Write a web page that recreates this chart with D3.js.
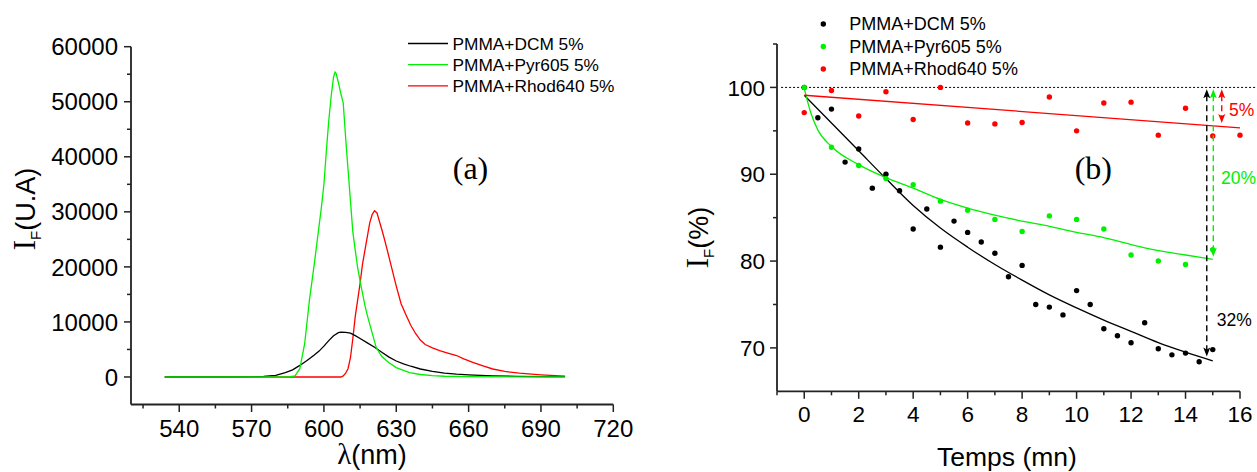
<!DOCTYPE html>
<html>
<head>
<meta charset="utf-8">
<script src="https://cdn.jsdelivr.net/npm/d3@7"></script>
<style>
  html, body { margin: 0; padding: 0; background: #fff; }
  svg { display: block; }
  text { font-family: "Liberation Sans", Arial, sans-serif; fill: #000; }
</style>
</head>
<body>
<svg id="chart" width="1257" height="472"></svg>
<script>
// ---------------- Panel (a): emission spectra ----------------
const seriesNamesA = ["PMMA+DCM 5%", "PMMA+Pyr605 5%", "PMMA+Rhod640 5%"];
const colorsA = ["#000000", "#00f000", "#ff0000"];

const dcmNm = [534, 560, 570, 575, 580, 584, 587, 590, 593, 596, 598, 600, 602, 604, 606, 607, 609, 611, 613, 615, 618, 621, 624, 627, 630, 633, 636, 640, 645, 650, 655, 660, 670, 680, 690, 700];
const dcmI  = [0, 0, 30, 100, 300, 800, 1300, 2100, 3000, 4000, 4700, 5600, 6600, 7500, 8050, 8150, 8100, 7950, 7500, 7000, 6200, 5400, 4500, 3600, 2900, 2400, 1950, 1450, 1000, 700, 500, 370, 200, 120, 80, 50];

const pyrNm = [534, 560, 580, 586, 588, 590, 592, 594, 596, 597, 598, 599, 600, 601, 602, 603, 604, 604.6, 605, 606, 607, 608, 609, 610, 611, 612, 613, 614, 615.4, 617, 618, 619.6, 621.7, 624, 627, 630, 635.5, 640, 645, 650, 660, 680, 700];
const pyrI  = [0, 0, 0, 50, 200, 1500, 6000, 14000, 20500, 24000, 27500, 31000, 35000, 41000, 46500, 51000, 54500, 55400, 55200, 53500, 51500, 49800, 43500, 37700, 32000, 26300, 23000, 19800, 16500, 13000, 11200, 8650, 5340, 3700, 2600, 1700, 800, 450, 250, 130, 60, 20, 0];

const rhodNm = [534, 600, 607, 608, 609, 610, 611, 612, 613, 614, 615, 616, 617, 618, 619, 620, 621, 622, 623, 624, 625, 626, 628, 630, 632, 634, 636, 638, 640, 642, 645, 648, 651, 655, 658, 662, 666, 670, 675, 681, 690, 700];
const rhodI  = [0, 0, 0, 200, 700, 1500, 3500, 7000, 11000, 14000, 17000, 20500, 23000, 25500, 28000, 29500, 30200, 29800, 28300, 26800, 25200, 23500, 20000, 16500, 13300, 11300, 9400, 7900, 6700, 5900, 5300, 4800, 4400, 3900, 3300, 2600, 2000, 1450, 1000, 700, 400, 150];

const xTicksA = [540, 570, 600, 630, 660, 690, 720];
const xMinorA = [525, 555, 585, 615, 645, 675, 705];
const yTicksA = [0, 10000, 20000, 30000, 40000, 50000, 60000];
const yMinorA = [5000, 15000, 25000, 35000, 45000, 55000];

// ---------------- Panel (b): photostability ----------------
const seriesNamesB = ["PMMA+DCM 5%", "PMMA+Pyr605 5%", "PMMA+Rhod640 5%"];
const colorsB = ["#000000", "#00f000", "#ff0000"];

const dcmT = [0, 0.5, 1, 1.5, 2, 2.5, 3, 3.5, 4, 4.5, 5, 5.5, 6, 6.5, 7, 7.5, 8, 8.5, 9, 9.5, 10, 10.5, 11, 11.5, 12, 12.5, 13, 13.5, 14, 14.5, 15];
const dcmP = [100, 96.5, 97.5, 91.4, 92.9, 88.4, 90.0, 88.1, 83.7, 86.0, 81.6, 84.6, 83.3, 82.2, 80.9, 78.2, 79.5, 75.0, 74.7, 73.8, 76.6, 75.0, 72.2, 71.4, 70.6, 72.9, 69.9, 69.2, 69.4, 68.4, 69.8];

const pyrT = [0, 1, 2, 3, 4, 5, 6, 7, 8, 9, 10, 11, 12, 13, 14, 15];
const pyrP = [100, 93.1, 91.0, 89.5, 88.8, 86.9, 85.85, 84.8, 83.4, 85.2, 84.8, 83.7, 80.7, 80.0, 79.6, 81.3];

const rhodT = [0, 1, 2, 3, 4, 5, 6, 7, 8, 9, 10, 11, 12, 13, 14, 15, 16];
const rhodP = [97.1, 99.65, 96.7, 99.5, 96.3, 100.0, 95.9, 95.8, 95.96, 98.9, 95.0, 98.2, 98.3, 94.5, 97.6, 94.4, 94.5];

// fitted curves as drawn in the figure
const dcmFitT = [0, 1, 2, 3, 4, 5, 6, 7, 8, 9, 10, 11, 12, 13, 14, 15];
const dcmFitP = [99.1, 95.9, 92.7, 89.5, 86.4, 83.8, 81.6, 79.6, 77.8, 76.1, 74.6, 73.2, 71.9, 70.6, 69.5, 68.5];
const pyrFitT = [0, 0.25, 0.5, 1, 2, 3, 4, 5, 6, 7, 8, 9, 10, 11, 12, 13, 14, 15];
const pyrFitP = [99.9, 97.0, 95.1, 93.2, 91.1, 89.6, 88.4, 87.1, 86.1, 85.3, 84.6, 84.0, 83.3, 82.7, 81.9, 81.2, 80.7, 80.2];
const rhodFitT = [0, 16];
const rhodFitP = [99.1, 95.35];

// loss arrows: x position (min), bottom value (%), label
const arrowT = [14.78, 15.02, 15.33];
const arrowBottom = [69.0, 80.5, 95.9];
const arrowTop = 99.8;
const lossLabels = ["32%", "20%", "5%"];
const lossLabelPos = [[15.15, 73.2], [15.3, 89.6], [15.6, 97.4]];

const xTicksB = [0, 2, 4, 6, 8, 10, 12, 14, 16];
const xMinorB = [-1, 1, 3, 5, 7, 9, 11, 13, 15];
const yTicksB = [70, 80, 90, 100];
const yMinorB = [75, 85, 95, 105];

// ================= drawing =================
const svg = d3.select("#chart");
const AXIS = "#222";

function drawAxes(g, x, y, xt, xm, yt, ym, fs, tickFmt, xLabelBase, yLabelGap) {
  const [x0, x1] = x.range();
  const [y0, y1] = y.range();
  g.append("line").attr("x1", x0).attr("x2", x1).attr("y1", y0).attr("y2", y0)
    .attr("stroke", AXIS).attr("stroke-width", 1.8);
  g.append("line").attr("x1", x0).attr("x2", x0).attr("y1", y0).attr("y2", y1)
    .attr("stroke", AXIS).attr("stroke-width", 1.8);
  xt.forEach(v => g.append("line").attr("x1", x(v)).attr("x2", x(v)).attr("y1", y0).attr("y2", y0 + 7.5)
    .attr("stroke", AXIS).attr("stroke-width", 1.5));
  xm.forEach(v => g.append("line").attr("x1", x(v)).attr("x2", x(v)).attr("y1", y0).attr("y2", y0 + 4)
    .attr("stroke", AXIS).attr("stroke-width", 1.5));
  xt.forEach(v => g.append("text").attr("x", x(v)).attr("y", xLabelBase).attr("text-anchor", "middle")
    .style("font-size", fs + "px").text(v));
  yt.forEach(v => g.append("line").attr("x1", x0 - 7).attr("x2", x0).attr("y1", y(v)).attr("y2", y(v))
    .attr("stroke", AXIS).attr("stroke-width", 1.5));
  ym.forEach(v => g.append("line").attr("x1", x0 - 4).attr("x2", x0).attr("y1", y(v)).attr("y2", y(v))
    .attr("stroke", AXIS).attr("stroke-width", 1.5));
  yt.forEach(v => g.append("text").attr("x", x0 - yLabelGap).attr("y", y(v)).attr("dy", "0.36em")
    .attr("text-anchor", "end").style("font-size", fs + "px").text(tickFmt(v)));
}

// ---------- panel (a) ----------
const gA = svg.append("g");
const xA = d3.scaleLinear().domain([520, 720]).range([131, 613.3]);
const yA = d3.scaleLinear().domain([-5000, 60000]).range([404.5, 46.7]);
drawAxes(gA, xA, yA, xTicksA, xMinorA, yTicksA, yMinorA, 24, d => d, 437, 13);

const lineA = d3.line().x(d => xA(d[0])).y(d => yA(d[1]));
const seriesA = [
  d3.zip(dcmNm, dcmI),
  d3.zip(pyrNm, pyrI),
  d3.zip(rhodNm, rhodI)
];
[2, 0, 1].forEach(i => {
  gA.append("path").datum(seriesA[i]).attr("d", lineA)
    .attr("fill", "none").attr("stroke", colorsA[i]).attr("stroke-width", 1.3);
});

seriesNamesA.forEach((name, i) => {
  const yy = 43.5 + i * 21.2;
  gA.append("line").attr("x1", 408).attr("x2", 448).attr("y1", yy).attr("y2", yy)
    .attr("stroke", colorsA[i]).attr("stroke-width", 1.3);
  gA.append("text").attr("x", 452.5).attr("y", yy).attr("dy", "0.36em")
    .style("font-size", "17.3px").text(name);
});
gA.append("text").attr("x", 470.5).attr("y", 178.5).attr("text-anchor", "middle")
  .style("font-family", "'Liberation Serif', 'Times New Roman', serif").style("font-size", "32px").text("(a)");

const xtA = gA.append("text").attr("x", 372).attr("y", 464).attr("text-anchor", "middle").style("font-size", "27px");
xtA.append("tspan").style("font-family", "'Liberation Serif', serif").style("font-size", "29px").text("λ");
xtA.append("tspan").text("(nm)");

const ytA = gA.append("text").attr("transform", "translate(35,209) rotate(-90)").attr("text-anchor", "middle").style("font-size", "27px");
ytA.append("tspan").style("font-family", "'Liberation Serif', serif").style("font-size", "31px").text("I");
ytA.append("tspan").attr("dy", 6).style("font-size", "15px").text("F");
ytA.append("tspan").attr("dy", -6).text("(U.A)");

// ---------- panel (b) ----------
const gB = svg.append("g");
const xB = d3.scaleLinear().domain([-1, 16]).range([777, 1240]);
const yB = d3.scaleLinear().domain([65, 105]).range([391.3, 44]);
drawAxes(gB, xB, yB, xTicksB, xMinorB, yTicksB, yMinorB, 22.5, d => d, 422, 12);

gB.append("line").attr("x1", xB(-0.85)).attr("x2", 1257).attr("y1", yB(100)).attr("y2", yB(100))
  .attr("stroke", "#000").attr("stroke-width", 1).attr("stroke-dasharray", "2,2");

const lineB = d3.line().x(d => xB(d[0])).y(d => yB(d[1])).curve(d3.curveMonotoneX);
const fits = [d3.zip(dcmFitT, dcmFitP), d3.zip(pyrFitT, pyrFitP), d3.zip(rhodFitT, rhodFitP)];
fits.forEach((f, i) => {
  gB.append("path").datum(f).attr("d", lineB).attr("fill", "none")
    .attr("stroke", colorsB[i]).attr("stroke-width", 1.3);
});

const pts = [d3.zip(dcmT, dcmP), d3.zip(pyrT, pyrP), d3.zip(rhodT, rhodP)];
pts.forEach((p, i) => {
  gB.selectAll(null).data(p).enter().append("circle")
    .attr("cx", d => xB(d[0])).attr("cy", d => yB(d[1])).attr("r", 2.7)
    .attr("fill", colorsB[i]);
});

function arrowHead(g, cx, tipY, dir, color) {
  const h = 9, w = 3.5;
  const baseY = tipY + dir * h;
  g.append("path").attr("d", `M${cx},${tipY} L${cx - w},${baseY} L${cx},${baseY - dir * 2} L${cx + w},${baseY} Z`)
    .attr("fill", color);
}
arrowT.forEach((t, i) => {
  const cx = xB(t);
  const topY = yB(arrowTop);
  const botY = yB(arrowBottom[i]);
  gB.append("line").attr("x1", cx).attr("x2", cx).attr("y1", topY + 6).attr("y2", botY - 6)
    .attr("stroke", colorsB[i]).attr("stroke-width", 1.4).attr("stroke-dasharray", "6,4");
  arrowHead(gB, cx, topY, 1, colorsB[i]);
  arrowHead(gB, cx, botY, -1, colorsB[i]);
  gB.append("text").attr("x", xB(lossLabelPos[i][0])).attr("y", yB(lossLabelPos[i][1])).attr("dy", "0.36em")
    .style("font-size", "17.5px").style("fill", colorsB[i]).text(lossLabels[i]);
});

seriesNamesB.forEach((name, i) => {
  const yy = 24 + i * 22.5;
  gB.append("circle").attr("cx", 823.3).attr("cy", yy).attr("r", 2.7).attr("fill", colorsB[i]);
  gB.append("text").attr("x", 849.3).attr("y", yy).attr("dy", "0.36em")
    .style("font-size", "18px").text(name);
});
gB.append("text").attr("x", 1093.3).attr("y", 178.5).attr("text-anchor", "middle")
  .style("font-family", "'Liberation Serif', 'Times New Roman', serif").style("font-size", "32px").text("(b)");

gB.append("text").attr("x", 1007).attr("y", 466).attr("text-anchor", "middle").style("font-size", "26.5px").text("Temps (mn)");
const ytB = gB.append("text").attr("transform", "translate(708,237.5) rotate(-90)").attr("text-anchor", "middle").style("font-size", "27px");
ytB.append("tspan").style("font-family", "'Liberation Serif', serif").style("font-size", "31px").text("I");
ytB.append("tspan").attr("dy", 6).style("font-size", "15px").text("F");
ytB.append("tspan").attr("dy", -6).text("(%)");
</script>
</body>
</html>
